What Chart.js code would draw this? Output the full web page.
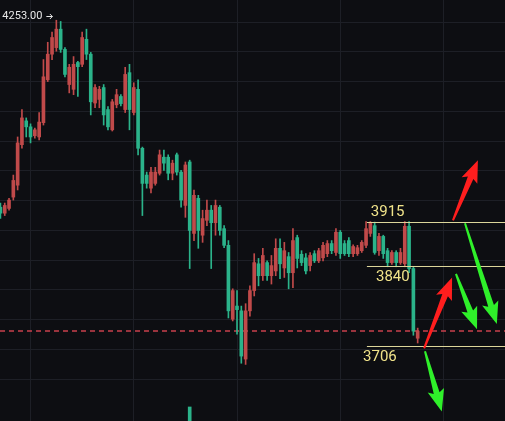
<!DOCTYPE html>
<html>
<head>
<meta charset="utf-8">
<script src="https://cdn.jsdelivr.net/npm/chart.js@4.4.1/dist/chart.umd.min.js"></script>
<style>
  html, body { margin: 0; padding: 0; background: #0d0e12; }
  #wrap { width: 505px; height: 421px; position: relative; }
</style>
</head>
<body>
<div id="wrap"><canvas id="kline"></canvas></div>
<script>
// OHLC, one entry per candle
const open = [3939, 3929, 3937, 3956, 3976, 4044, 4084, 4074, 4059, 4057,
  4081, 4153, 4196, 4207, 4238, 4204, 4145, 4137, 4182, 4179,
  4221, 4196, 4114, 4120, 4140, 4103, 4069, 4111, 4125, 4103,
  4165, 4098, 4137, 4038, 3993, 3971, 3979, 3996, 4023, 4023,
  3996, 4027, 3998, 3942, 4015, 3895, 3954, 3892, 3917, 3934,
  3913, 3939, 3903, 3875, 3751, 3773, 3765, 3684, 3765, 3799,
  3844, 3824, 3846, 3824, 3832, 3870, 3837, 3856, 3829, 3888,
  3860, 3854, 3841, 3861, 3849, 3854, 3861, 3878, 3863, 3897,
  3878, 3883, 3861, 3861, 3866, 3875, 3895, 3908, 3866, 3890,
  3866, 3846, 3863, 3846, 3844, 3907, 3836, 3719];
const high = [3946, 3946, 3954, 3993, 4057, 4103, 4089, 4079, 4072, 4098,
  4187, 4216, 4233, 4253, 4251, 4207, 4179, 4192, 4184, 4233,
  4238, 4199, 4145, 4142, 4145, 4108, 4120, 4137, 4128, 4174,
  4179, 4148, 4153, 4040, 3998, 4006, 4006, 4035, 4035, 4027,
  4018, 4030, 4001, 4015, 4018, 3968, 3959, 3934, 3951, 3942,
  3951, 3942, 3908, 3883, 3802, 3799, 3773, 3777, 3807, 3861,
  3853, 3870, 3849, 3858, 3886, 3886, 3880, 3863, 3903, 3892,
  3866, 3861, 3863, 3866, 3870, 3880, 3883, 3883, 3903, 3900,
  3883, 3888, 3876, 3875, 3883, 3915, 3915, 3914, 3895, 3892,
  3870, 3866, 3866, 3870, 3915, 3915, 3839, 3736];
const low = [3920, 3925, 3934, 3951, 3968, 4038, 4057, 4047, 4055, 4052,
  4077, 4150, 4187, 4201, 4199, 4158, 4131, 4128, 4125, 4175,
  4187, 4094, 4106, 4106, 4077, 4069, 4067, 4106, 4109, 4098,
  4069, 4094, 4027, 3925, 3971, 3963, 3976, 3993, 4001, 3985,
  3985, 3993, 3939, 3922, 3836, 3883, 3870, 3880, 3908, 3836,
  3892, 3892, 3871, 3753, 3748, 3726, 3677, 3675, 3756, 3790,
  3807, 3816, 3816, 3810, 3824, 3819, 3821, 3802, 3804, 3837,
  3841, 3827, 3832, 3846, 3846, 3849, 3856, 3861, 3858, 3853,
  3858, 3856, 3856, 3858, 3863, 3871, 3890, 3860, 3858, 3853,
  3839, 3843, 3839, 3843, 3839, 3829, 3724, 3711];
const close = [3929, 3942, 3951, 3984, 4047, 4089, 4074, 4057, 4069, 4082,
  4158, 4196, 4224, 4238, 4204, 4162, 4174, 4179, 4175, 4224,
  4196, 4116, 4140, 4137, 4094, 4074, 4116, 4128, 4113, 4162,
  4103, 4140, 4038, 3979, 3979, 3998, 3998, 4027, 4013, 3996,
  4013, 3998, 3951, 4010, 3900, 3959, 3900, 3920, 3934, 3913,
  3942, 3900, 3875, 3765, 3799, 3767, 3689, 3765, 3799, 3846,
  3824, 3858, 3824, 3841, 3870, 3844, 3866, 3829, 3883, 3853,
  3846, 3832, 3858, 3849, 3866, 3875, 3878, 3866, 3897, 3861,
  3861, 3861, 3873, 3871, 3880, 3903, 3912, 3863, 3890, 3861,
  3846, 3863, 3846, 3863, 3907, 3836, 3731, 3731];

// only one volume bar peeks in from the pane below
const volIdx = [44];
const volVal = [100];

// support / resistance levels drawn by hand
const levels = [3915, 3840, 3706];

// hand drawn arrows: [fromIndex, fromPrice, toIndex, toPrice], red = up
const arrowsUp = [[105.2, 3917, 111.0, 4018], [98.5, 3702, 105.0, 3821]];
const arrowsDown = [[108.0, 3912, 115.4, 3743], [105.9, 3827, 110.8, 3734], [98.7, 3697, 102.6, 3596]];

// time gridlines (candle index)
const timeTicks = [7, 31, 55, 79, 103];

const UP = '#c04a4a';
const DOWN = '#2bb38a';
const GRID = '#1d1f26';

const idx = open.map((_, i) => i);
const candleColor = ctx => close[ctx.dataIndex] >= open[ctx.dataIndex] ? UP : DOWN;

function drawArrow(ctx, x0, y0, x1, y1, color) {
    const dx = x1 - x0, dy = y1 - y0;
    const len = Math.hypot(dx, dy);
    const ux = dx / len, uy = dy / len;
    const nx = -uy, ny = ux;
    const head = 19, hw = 8.5, w0 = 1, w1 = 3;
    const bx = x1 - ux * head, by = y1 - uy * head;
    ctx.fillStyle = color;
    ctx.beginPath();
    ctx.moveTo(x0 + nx * w0, y0 + ny * w0);
    ctx.lineTo(bx + nx * w1, by + ny * w1);
    ctx.lineTo(bx + nx * hw - ux * 3, by + ny * hw - uy * 3);
    ctx.lineTo(x1, y1);
    ctx.lineTo(bx - nx * hw - ux * 3, by - ny * hw - uy * 3);
    ctx.lineTo(bx - nx * w1, by - ny * w1);
    ctx.lineTo(x0 - nx * w0, y0 - ny * w0);
    ctx.closePath();
    ctx.fill();
}

const overlay = {
    id: 'overlay',
    beforeDatasetsDraw(chart) {
        const { ctx, chartArea, scales: { y } } = chart;
        // last price dashed line
        const yl = Math.round(y.getPixelForValue(close[close.length - 1]));
        ctx.save();
        ctx.strokeStyle = '#c8404c';
        ctx.lineWidth = 1.5;
        ctx.setLineDash([5, 4]);
        ctx.beginPath();
        ctx.moveTo(chartArea.left, yl);
        ctx.lineTo(chartArea.right, yl);
        ctx.stroke();
        ctx.restore();
    },
    afterDatasetsDraw(chart) {
        const { ctx, chartArea, scales: { x, y } } = chart;
        ctx.save();

        // level lines + labels
        const lineStart = x.getPixelForValue(85.2);
        const labelX = [86.1, 87.3, 84.3];
        const above = [true, false, false];
        ctx.font = '15px Roboto, "Noto Sans", sans-serif';
        ctx.textAlign = 'left';
        levels.forEach((lv, k) => {
            const py = Math.round(y.getPixelForValue(lv)) + 0.5;
            ctx.strokeStyle = '#dcd69a';
            ctx.lineWidth = 1;
            ctx.beginPath();
            ctx.moveTo(lineStart, py);
            ctx.lineTo(chartArea.right, py);
            ctx.stroke();
            ctx.fillStyle = '#f0e38a';
            ctx.textBaseline = above[k] ? 'bottom' : 'top';
            ctx.fillText(String(lv), x.getPixelForValue(labelX[k]), above[k] ? py - 3 : py + 3);
        });

        // highest price tag with a small arrow pointing at the candle
        const hi = Math.max(...high);
        const hiIdx = high.indexOf(hi);
        const cx = x.getPixelForValue(hiIdx);
        const ty = Math.round(y.getPixelForValue(hi)) - 3.5;
        ctx.font = '11px Roboto, "Noto Sans", sans-serif';
        ctx.fillStyle = '#e8e8e8';
        ctx.textAlign = 'right';
        ctx.textBaseline = 'middle';
        ctx.fillText(hi.toFixed(2), cx - 14, ty);
        ctx.strokeStyle = '#e8e8e8';
        ctx.lineWidth = 1;
        ctx.beginPath();
        ctx.moveTo(cx - 10, ty);
        ctx.lineTo(cx - 4, ty);
        ctx.moveTo(cx - 6.5, ty - 2.5);
        ctx.lineTo(cx - 4, ty);
        ctx.lineTo(cx - 6.5, ty + 2.5);
        ctx.stroke();

        // arrows
        arrowsUp.forEach(a => drawArrow(ctx, x.getPixelForValue(a[0]), y.getPixelForValue(a[1]),
            x.getPixelForValue(a[2]), y.getPixelForValue(a[3]), '#ff1e1e'));
        arrowsDown.forEach(a => drawArrow(ctx, x.getPixelForValue(a[0]), y.getPixelForValue(a[1]),
            x.getPixelForValue(a[2]), y.getPixelForValue(a[3]), '#2ff02a'));

        ctx.restore();
    }
};

new Chart(document.getElementById('kline'), {
    type: 'bar',
    data: {
        datasets: [
            {
                label: 'wick',
                data: idx.map(i => ({ x: i, y: [low[i], high[i]] })),
                backgroundColor: candleColor,
                barThickness: 1,
                grouped: false,
                order: 3
            },
            {
                label: 'body',
                data: idx.map(i => ({ x: i, y: [open[i], close[i]] })),
                backgroundColor: candleColor,
                barThickness: 3,
                minBarLength: 1,
                grouped: false,
                order: 2
            },
            {
                label: 'volume',
                data: volIdx.map((v, k) => ({ x: v, y: volVal[k] })),
                backgroundColor: DOWN,
                barThickness: 3,
                grouped: false,
                yAxisID: 'vol',
                order: 1
            }
        ]
    },
    options: {
        responsive: true,
        maintainAspectRatio: false,
        animation: false,
        layout: { padding: 0 },
        plugins: {
            legend: { display: false },
            tooltip: { enabled: false }
        },
        scales: {
            x: {
                type: 'linear',
                min: -0.1,
                max: 117.3,
                offset: false,
                border: { display: false },
                grid: { color: GRID, drawTicks: false, offset: false },
                ticks: { display: false },
                afterBuildTicks: axis => {
                    axis.ticks = timeTicks.map(v => ({ value: v }));
                }
            },
            y: {
                min: 3580,
                max: 4287,
                border: { display: false },
                grid: {
                    drawTicks: false,
                    color: ctx => (ctx.tick && ctx.tick.value % 50 === 0) ? GRID : 'transparent'
                },
                ticks: { display: false, stepSize: 50 }
            },
            vol: {
                display: false,
                min: 0,
                max: 3000
            }
        }
    },
    plugins: [overlay]
});
</script>
</body>
</html>
